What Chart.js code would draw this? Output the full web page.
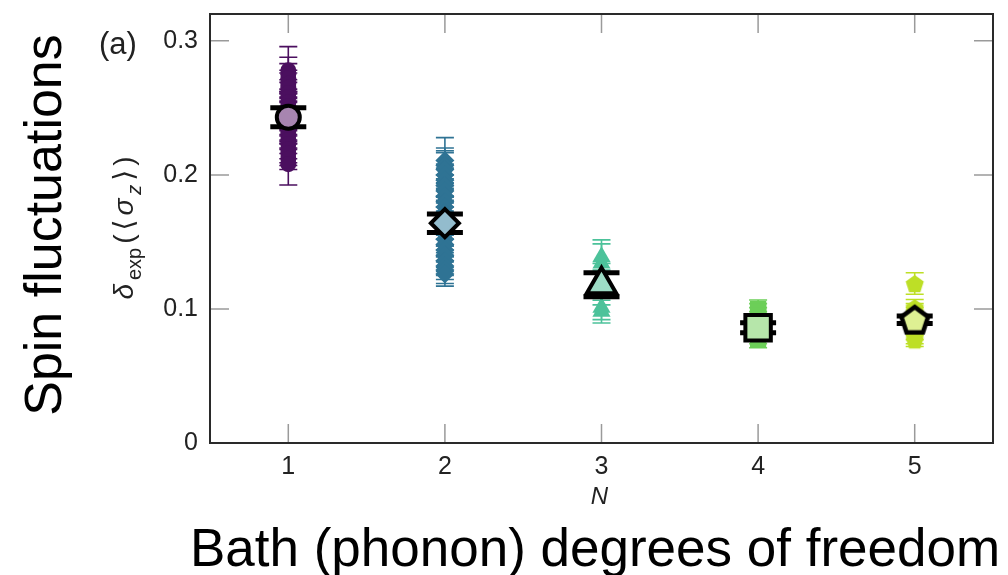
<!DOCTYPE html>
<html><head><meta charset="utf-8">
<script src="https://cdn.jsdelivr.net/npm/chart.js@4/dist/chart.umd.min.js"></script>
<style>html,body{margin:0;padding:0;background:#fff;}canvas{display:block;}</style>
</head><body>
<canvas id="c" width="1008" height="575"></canvas>
<script>
// ---- data ----
const categoriesN = [1, 2, 3, 4, 5];
const xTickValues = [1, 2, 3, 4, 5];
const yTickValues = [0, 0.1, 0.2, 0.3];
const yTickLabels = ['0', '0.1', '0.2', '0.3'];

const n1Vals = [0.278,0.275,0.272,0.268,0.265,0.261,0.258,0.254,0.251,0.247,0.244,0.240,0.237,0.233,0.230,0.226,0.223,0.219,0.216,0.212,0.208];
const n1Errs = [0.0177,0.0127,0.011,0.010,0.011,0.010,0.011,0.010,0.011,0.010,0.011,0.010,0.011,0.010,0.011,0.010,0.011,0.010,0.009,0.008,0.0155];
const n2Vals = [0.2107,0.207,0.204,0.200,0.196,0.192,0.188,0.184,0.180,0.176,0.172,0.168,0.164,0.160,0.156,0.152,0.148,0.144,0.140,0.136,0.132,0.129,0.126];
const n2Errs = [0.0171,0.013,0.014,0.0166,0.012,0.013,0.012,0.013,0.012,0.013,0.012,0.013,0.012,0.013,0.012,0.013,0.012,0.013,0.012,0.011,0.010,0.010,0.009];
const n3Vals = [0.139,0.134,0.121,0.116,0.101,0.098];
const n3Errs = [0.0125,0.0145,0.013,0.013,0.009,0.0085];
const n4Vals = [0.100,0.098,0.095,0.092,0.089,0.086,0.083,0.080,0.077];
const n4Errs = [0.0067,0.006,0.006,0.006,0.006,0.006,0.006,0.006,0.006];
const n5Vals = [0.119,0.101,0.098,0.095,0.092,0.089,0.086,0.083,0.080,0.077];
const n5Errs = [0.008,0.006,0.006,0.006,0.006,0.006,0.006,0.006,0.006,0.005];

const meanVals = [0.243, 0.164, 0.118, 0.086, 0.092];
const meanErrs = [0.0071, 0.0069, 0.009, 0.0037, 0.0028];

const pointColors = ['#4b0f5f', '#2f7394', '#4cc29a', '#6ccf58', '#bddf26'];
const meanFills = ['#a785b0', '#93bccd', '#9ddcc6', '#b6e6aa', '#def093'];

const panelLabel = '(a)';
const xTitle = 'N';
const bigYLabel = 'Spin fluctuations';
const bigXLabel = 'Bath (phonon) degrees of freedom';

const FONT = '"Liberation Sans", Arial, Helvetica, sans-serif';

// pentagon point style
function pentagon(r, fill, stroke, lw) {
  const pad = Math.ceil(lw) + 2;
  const size = Math.ceil(2 * r + 2 * pad);
  const cv = document.createElement('canvas');
  cv.width = size; cv.height = size;
  const g = cv.getContext('2d');
  const cx = size / 2, cy = size / 2 + r * 0.1;
  g.beginPath();
  for (let k = 0; k < 5; k++) {
    const a = -Math.PI / 2 + k * 2 * Math.PI / 5;
    const px = cx + r * Math.cos(a), py = cy + r * Math.sin(a);
    if (k === 0) g.moveTo(px, py); else g.lineTo(px, py);
  }
  g.closePath();
  g.fillStyle = fill; g.fill();
  if (lw > 0) { g.lineWidth = lw; g.strokeStyle = stroke; g.lineJoin = 'miter'; g.stroke(); }
  return cv;
}

const groupVals = [n1Vals, n2Vals, n3Vals, n4Vals, n5Vals];
const groupErrs = [n1Errs, n2Errs, n3Errs, n4Errs, n5Errs];
const smallStyles = ['circle', 'rectRot', 'triangle', 'rect', pentagon(9.5, pointColors[4], pointColors[4], 0)];
const smallRadius = [8, 9.5, 10.5, 11.5, 9];
const meanStyles = ['circle', 'rectRot', 'triangle', 'rect', pentagon(14, meanFills[4], '#000', 4.5)];
const meanRadius = [11.5, 14, 17, 18, 15];

const datasets = [];
categoriesN.forEach((n, gi) => {
  datasets.push({
    label: 'N=' + n,
    data: groupVals[gi].map(v => ({ x: n, y: v })),
    errors: groupErrs[gi],
    errColor: pointColors[gi], errWidth: 1.6, capHalf: 9,
    pointStyle: smallStyles[gi], pointRadius: smallRadius[gi],
    backgroundColor: pointColors[gi], borderColor: pointColors[gi], borderWidth: 0,
    showLine: false, order: 2
  });
});
categoriesN.forEach((n, gi) => {
  datasets.push({
    label: 'mean N=' + n,
    data: [{ x: n, y: meanVals[gi] }],
    errors: [meanErrs[gi]],
    errColor: '#000', errWidth: 5, capHalf: 18,
    pointStyle: meanStyles[gi], pointRadius: meanRadius[gi],
    backgroundColor: meanFills[gi], borderColor: '#000', borderWidth: 4,
    showLine: false, order: 1
  });
});

const errorBarPlugin = {
  id: 'errbars',
  beforeDatasetDraw(chart, args) {
    const ds = chart.data.datasets[args.index];
    if (!ds.errors) return;
    const ys = chart.scales.y, ctx = chart.ctx;
    ctx.save();
    ctx.strokeStyle = ds.errColor; ctx.lineWidth = ds.errWidth; ctx.lineCap = 'butt';
    args.meta.data.forEach((el, i) => {
      const v = ds.data[i].y, e = ds.errors[i];
      const yt = ys.getPixelForValue(v + e), yb = ys.getPixelForValue(v - e);
      const x = el.x;
      ctx.beginPath();
      ctx.moveTo(x, yt); ctx.lineTo(x, yb);
      ctx.moveTo(x - ds.capHalf, yt); ctx.lineTo(x + ds.capHalf, yt);
      ctx.moveTo(x - ds.capHalf, yb); ctx.lineTo(x + ds.capHalf, yb);
      ctx.stroke();
    });
    ctx.restore();
  }
};

const framePlugin = {
  id: 'frame',
  beforeDatasetsDraw(chart) {
    const { ctx, chartArea: a, scales } = chart;
    ctx.save();
    ctx.strokeStyle = '#9a9a9a'; ctx.lineWidth = 1.5;
    const L = 19;
    scales.x.ticks.forEach(t => {
      const x = scales.x.getPixelForValue(t.value);
      ctx.beginPath();
      ctx.moveTo(x, a.bottom); ctx.lineTo(x, a.bottom - L);
      ctx.moveTo(x, a.top); ctx.lineTo(x, a.top + L);
      ctx.stroke();
    });
    scales.y.ticks.forEach(t => {
      const y = scales.y.getPixelForValue(t.value);
      ctx.beginPath();
      ctx.moveTo(a.left, y); ctx.lineTo(a.left + L, y);
      ctx.moveTo(a.right, y); ctx.lineTo(a.right - L, y);
      ctx.stroke();
    });
    ctx.restore();
  },
  afterDraw(chart) {
    const { ctx, chartArea: a } = chart;
    ctx.save();
    ctx.strokeStyle = '#2a2a2a'; ctx.lineWidth = 2;
    ctx.strokeRect(a.left, a.top, a.right - a.left, a.bottom - a.top);

    // panel label
    ctx.fillStyle = '#222';
    ctx.font = '31px ' + FONT;
    ctx.textAlign = 'left'; ctx.textBaseline = 'alphabetic';
    ctx.fillText(panelLabel, 99, 54);

    // x title (italic N)
    ctx.font = 'italic 24px ' + FONT;
    ctx.textAlign = 'center';
    ctx.fillText(xTitle, (a.left + a.right) / 2 - 2, 504);

    // y title with subscripts
    const F = 28, G = 4;
    const runs = [
      { t: 'δ', f: 'italic ' + F + 'px ' + FONT, dy: 0 },
      { t: 'exp', f: Math.round(F * 0.7) + 'px ' + FONT, dy: F * 0.28 },
      { t: '(', f: F + 'px ' + FONT, dy: 0 },
      { t: '⟨', f: F + 'px "DejaVu Sans", ' + FONT, dy: 0 },
      { t: 'σ', f: 'italic ' + F + 'px ' + FONT, dy: 0 },
      { t: 'z', f: 'italic ' + Math.round(F * 0.7) + 'px ' + FONT, dy: F * 0.28 },
      { t: '⟩', f: F + 'px "DejaVu Sans", ' + FONT, dy: 0 },
      { t: ')', f: F + 'px ' + FONT, dy: 0 }
    ];
    let total = 0;
    runs.forEach(r => { ctx.font = r.f; r.w = ctx.measureText(r.t).width; total += r.w + G; });
    total -= G;
    ctx.translate(133, 228);
    ctx.rotate(-Math.PI / 2);
    ctx.textAlign = 'left';
    let xx = -total / 2;
    runs.forEach(r => { ctx.font = r.f; ctx.fillText(r.t, xx, r.dy); xx += r.w + G; });
    ctx.restore();

    // big labels
    ctx.save();
    ctx.fillStyle = '#000';
    ctx.font = '52px ' + FONT;
    ctx.textAlign = 'center'; ctx.textBaseline = 'alphabetic';
    ctx.translate(61, 225);
    ctx.rotate(-Math.PI / 2);
    ctx.fillText(bigYLabel, 0, 0);
    ctx.restore();
    ctx.save();
    ctx.fillStyle = '#000';
    ctx.font = '53px ' + FONT;
    ctx.textAlign = 'center'; ctx.textBaseline = 'alphabetic';
    ctx.fillText(bigXLabel, 595, 566);
    ctx.restore();
  }
};

new Chart(document.getElementById('c'), {
  type: 'scatter',
  data: { datasets },
  options: {
    responsive: false, animation: false, devicePixelRatio: 1,
    layout: { autoPadding: false, padding: { left: 0, right: 15, top: 14, bottom: 0 } },
    plugins: { legend: { display: false }, tooltip: { enabled: false } },
    scales: {
      x: {
        type: 'linear', min: 0.5, max: 5.5,
        afterBuildTicks: s => { s.ticks = xTickValues.map(v => ({ value: v })); },
        afterFit: s => { s.height = 132; s.paddingLeft = 0; s.paddingRight = 0; },
        grid: { display: false, drawTicks: false }, border: { display: false },
        ticks: { padding: 9, color: '#222', font: { family: FONT, size: 25 }, callback: v => String(v) }
      },
      y: {
        type: 'linear', min: 0, max: 0.32,
        afterBuildTicks: s => { s.ticks = yTickValues.map(v => ({ value: v })); },
        afterFit: s => { s.width = 210; s.paddingTop = 0; s.paddingBottom = 0; },
        grid: { display: false, drawTicks: false }, border: { display: false },
        ticks: { padding: 12, color: '#222', font: { family: FONT, size: 25 },
          callback: (v) => { const i = yTickValues.indexOf(v); return i >= 0 ? yTickLabels[i] : ''; } }
      }
    }
  },
  plugins: [errorBarPlugin, framePlugin]
});
</script>
</body></html>
